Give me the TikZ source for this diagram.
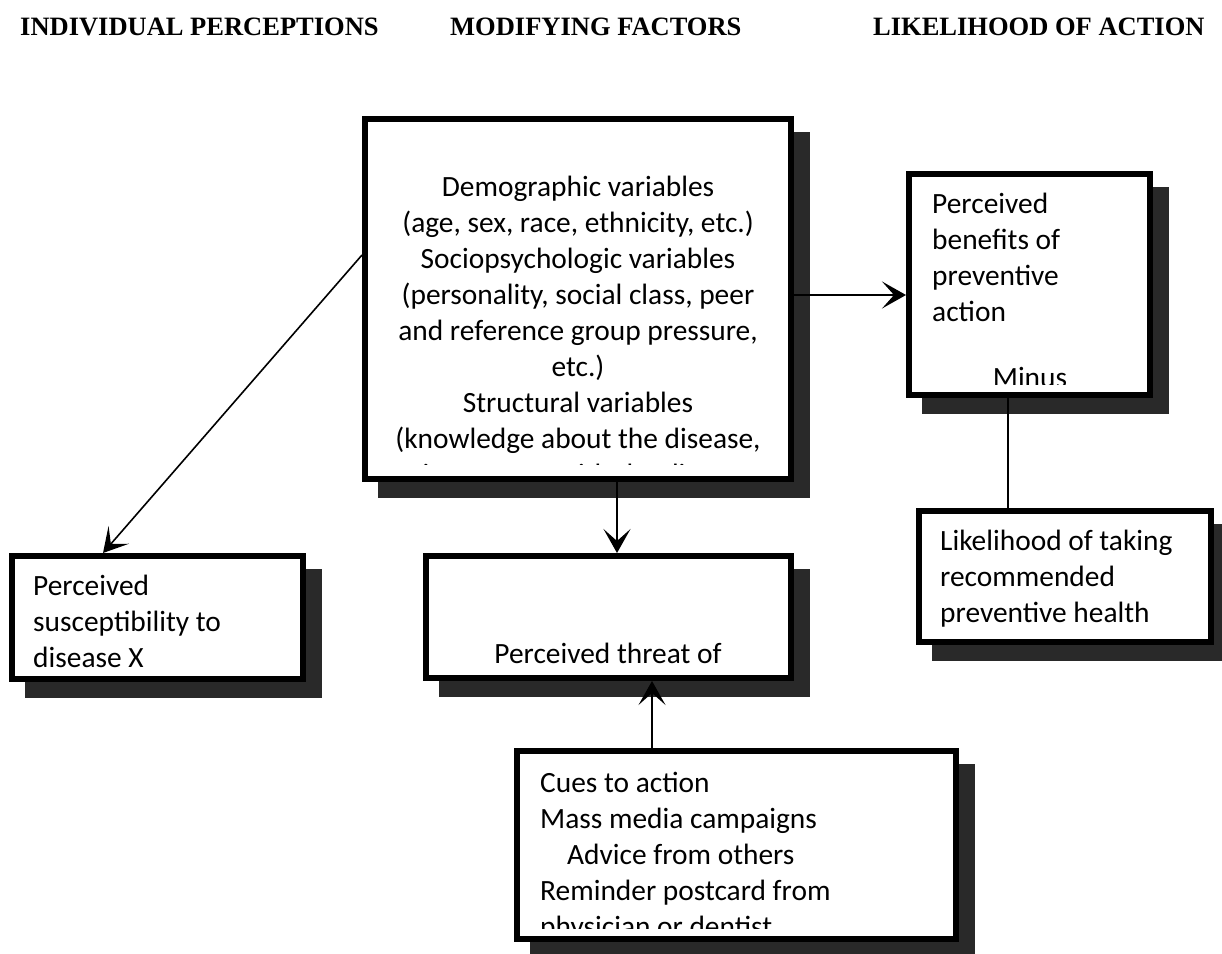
\documentclass[tikz,border=0pt]{standalone}
\usepackage{fontspec}
\setmainfont{Carlito}
\newfontfamily\headfont{Liberation Serif}
\usetikzlibrary{arrows.meta, backgrounds}

% clip the text of a box to the inside of its frame
\newcommand{\clipinside}[2][14]{\clip ([shift={(6,6)}]#2.north west) rectangle ([shift={(-6,-#1)}]#2.south east);}

\begin{document}
\begin{tikzpicture}[x=1pt, y=-1pt,
        model/.style={rectangle, draw=black, line width=6pt, fill=white, inner sep=0pt},
        body/.style={inner sep=0pt, font=\fontsize{29.4}{36}\selectfont},
        heading/.style={inner sep=0pt, anchor=base west, font=\headfont\bfseries\fontsize{26.5}{30}\selectfont},
        arrow/.style={-{Stealth[length=24pt, width=27pt, inset=12pt]}, line width=1.6pt},
        link/.style={line width=1.6pt}
    ]
        \useasboundingbox (0,0) rectangle (1222,953);

        % column headings
        \node[heading] (hindiv) at (20,35) {INDIVIDUAL PERCEPTIONS};
        \node[heading] (hmod) at (450,35) {MODIFYING FACTORS};
        \node[heading] (hlike) at (873,35) {LIKELIHOOD OF ACTION};

        % frames
        \node[model, minimum width=426pt, minimum height=360pt] (demo) at (578,299) {};
        \node[model, minimum width=365pt, minimum height=122pt] (threat) at (608.5,617) {};
        \node[model, minimum width=291pt, minimum height=123pt] (suscept) at (157.5,617.5) {};
        \node[model, minimum width=241pt, minimum height=221pt] (benefit) at (1029.5,284.5) {};
        \node[model, minimum width=292pt, minimum height=131pt] (likely) at (1065,576.5) {};
        \node[model, minimum width=439pt, minimum height=188pt] (cues) at (736.5,845) {};

        \begin{scope}[on background layer]
            \foreach \b in {demo, threat, suscept, benefit, likely, cues}
                \fill[black!84] ([shift={(16,16)}]\b.north west) rectangle ([shift={(16,16)}]\b.south east);
        \end{scope}

        % texts (base = baseline of the last line)
        \begin{scope}
            \clipinside[18]{demo}
            \node[body, align=center, anchor=base] (demotext) at (578,484) {Demographic variables\\(age, sex, race, ethnicity, etc.)\\Sociopsychologic variables\\(personality, social class, peer\\and reference group pressure,\\etc.)\\Structural variables\\(knowledge about the disease,\\prior contact with the disease,};
        \end{scope}
        \node[body, anchor=base] (threattext) at (608,663) {Perceived threat of};
        \begin{scope}
            \clipinside{suscept}
            \node[body, align=left, anchor=base west] (suscepttext) at (33,667) {Perceived\\susceptibility to\\disease X};
        \end{scope}
        \begin{scope}
            \clipinside{benefit}
            \node[body, align=left, anchor=base west] (benefittext) at (932,321) {Perceived\\benefits of\\preventive\\action};
            \node[body, anchor=base] (minus) at (1030,387) {Minus};
        \end{scope}
        \node[body, align=left, anchor=base west] (likelytext) at (940,622) {Likelihood of taking\\recommended\\preventive health};
        \begin{scope}
            \clipinside{cues}
            \node[body, align=left, anchor=base west] (cuestext) at (540,936) {Cues to action\\Mass media campaigns\\\hspace*{27pt}Advice from others\\Reminder postcard from\\physician or dentist};
        \end{scope}

        % connectors
        \draw[arrow] ([yshift=44pt]demo.west) -- ([xshift=-54.5pt]suscept.north);
        \draw[arrow] ([xshift=8.5pt]threat.north |- demo.south) -- ([xshift=8.5pt]threat.north);
        \draw[arrow] ([yshift=-10.5pt]benefit.west -| demo.east) -- ([yshift=-10.5pt]benefit.west);
        \draw[arrow] ([xshift=-84.5pt]cues.north) -- ([xshift=-84.5pt]cues.north |- threat.south);
        \draw[link] ([xshift=-21.5pt]benefit.south) -- ([xshift=-21.5pt]benefit.south |- likely.north);
    \end{tikzpicture}
\end{document}
